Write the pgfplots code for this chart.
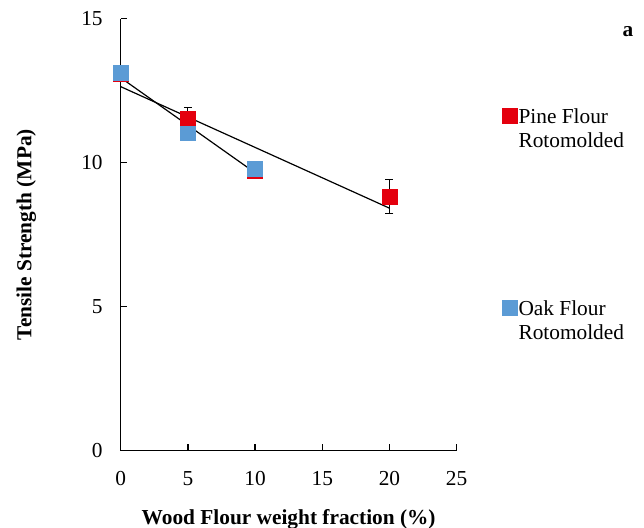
\documentclass[border=0pt]{standalone}
\usepackage{pgfplots}
\pgfplotsset{compat=1.18}
\usepackage{fontspec}
\setmainfont{Liberation Serif}
\definecolor{pinered}{RGB}{228,0,14}
\definecolor{oakblue}{RGB}{91,155,213}
\begin{document}
\begin{tikzpicture}
\useasboundingbox (0,0) rectangle (483pt,396pt);
\begin{axis}[
  at={(90.5pt,58pt)}, anchor=south west,
  scale only axis, width=252pt, height=324pt,
  font=\fontsize{16}{18}\selectfont,
  /pgf/number format/assume math mode=true,
  xmin=0, xmax=25, ymin=0, ymax=15,
  xtick={0,5,...,25}, ytick={0,5,10,15},
  axis x line*=bottom, axis y line*=left,
  axis line style={line width=1.1pt, -},
  tick align=inside, major tick length=5pt,
  tick style={line width=1.1pt, black},
  xticklabel style={yshift=-12pt},
  yticklabel style={xshift=-10pt},
  xlabel={\textbf{Wood Flour weight fraction (\%)}},
  ylabel={\textbf{Tensile Strength (MPa)}},
  xlabel style={yshift=-11pt},
  ylabel style={yshift=27pt},
  clip=false,
  legend style={draw=none, fill=none, at={(1.135,0.80)}, anchor=north west,
    row sep=128pt, inner sep=0pt,
    nodes={inner sep=1pt}},
  legend cell align=left,
  legend image code/.code={\draw[#1] plot coordinates {(0.05cm,0cm)};},
]
% Pine flour, rotomolded (mean with standard deviation)
\addplot[only marks, mark=square*, mark size=5.6pt, color=pinered,
  error bars/.cd, y dir=both, y explicit,
  error bar style={black, line width=0.8pt},
  error mark options={rotate=90, mark size=3pt, black, line width=0.8pt}]
  coordinates {
  (0,13.1) +- (0,0.2)
  (5,11.52) +- (0,0.4)
  (10,9.72) +- (0,0.1)
  (20,8.82) +- (0,0.6)
  };
\addlegendentry{\begin{tabular}[t]{@{}l@{}}Pine Flour\\Rotomolded\end{tabular}}
% Oak flour, rotomolded
\addplot[only marks, mark=square*, mark size=5.6pt, color=oakblue]
  coordinates {(0,13.12) (5,11.02) (10,9.8)};
\addlegendentry{\begin{tabular}[t]{@{}l@{}}Oak Flour\\Rotomolded\end{tabular}}
% Linear trend lines
\addplot[black, line width=0.9pt, forget plot] coordinates {(0,12.64) (20,8.42)};
\addplot[black, line width=0.9pt, forget plot] coordinates {(0,12.95) (10,9.65)};
\end{axis}
\node[font=\fontsize{16}{18}\selectfont\bfseries] at (471pt,372pt) {a};
\end{tikzpicture}
\end{document}
